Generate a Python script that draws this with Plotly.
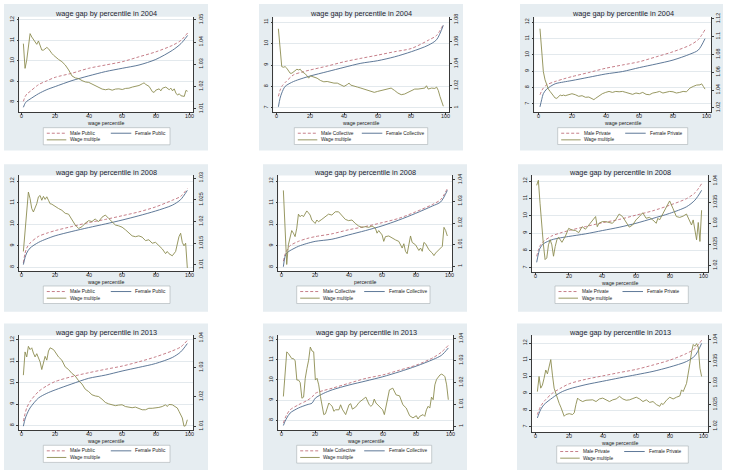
import plotly.graph_objects as go

W, H = 730, 474

# ---------------- data ----------------
CURVE_PCT = [1, 2, 3, 5, 10, 15, 20, 30, 40, 50, 60, 70, 80, 90, 95, 99]
CURVE_PCT_COLL13 = [1, 2, 3, 5, 10, 15, 18, 20, 25, 30, 40, 50, 60, 70, 80, 90, 95, 99]
X_TICKS = [0, 20, 40, 60, 80, 100]

# 2004
male_pub04 = [8.03, 8.25, 8.38, 8.51, 8.84, 9.03, 9.20, 9.40, 9.64, 9.80, 9.96, 10.20, 10.44, 10.76, 11.00, 11.36]
female_pub04 = [7.74, 7.93, 8.03, 8.14, 8.40, 8.60, 8.75, 9.04, 9.27, 9.48, 9.64, 9.80, 10.07, 10.52, 10.84, 11.24]
wm_pct_pub04 = [1, 2, 3, 4, 5, 6, 7, 8, 9, 10, 11, 12, 13, 14, 15, 16, 17, 18, 19, 20,
                22, 24, 26, 28, 30, 32, 34, 36, 38, 40, 42, 44, 46, 48, 50, 52, 54, 56, 58, 60, 62, 64, 66, 68, 70, 72,
                73, 74, 76, 78, 79, 80, 82, 83, 84, 86, 88, 89, 90, 91, 92, 93, 94, 95, 96, 97, 98, 99]
wm_pub04 = [1.0393, 1.0282, 1.0319, 1.0386, 1.0438, 1.0423, 1.0411, 1.0401, 1.0390, 1.0405, 1.0379, 1.0364, 1.0364, 1.0371, 1.0376, 1.0370, 1.0356, 1.0349, 1.0341, 1.0334,
            1.0322, 1.0312, 1.0297, 1.0275, 1.0248, 1.0239, 1.0236, 1.0227, 1.0221, 1.0219, 1.0211, 1.0204, 1.0195, 1.0189, 1.0186, 1.0189, 1.0184, 1.0189, 1.0190, 1.0187, 1.0192, 1.0193, 1.0198, 1.0201, 1.0205, 1.0213,
            1.0217, 1.0210, 1.0201, 1.0177, 1.0174, 1.0184, 1.0190, 1.0181, 1.0193, 1.0198, 1.0186, 1.0193, 1.0181, 1.0190, 1.0171, 1.0162, 1.0168, 1.0159, 1.0156, 1.0156, 1.0183, 1.0179]

male_col04 = [7.54, 7.82, 8.00, 8.18, 8.54, 8.67, 8.77, 8.95, 9.15, 9.31, 9.46, 9.62, 9.77, 10.15, 10.38, 10.89]
female_col04 = [7.05, 7.45, 7.69, 8.00, 8.23, 8.37, 8.49, 8.69, 8.89, 9.08, 9.20, 9.38, 9.62, 9.92, 10.18, 10.85]
wm_pct_col04 = [1, 2, 3, 4, 5, 6, 7, 8, 9, 10, 11, 12, 13, 14, 15, 16, 17, 18, 19, 20,
                22, 24, 26, 28, 30, 32, 34, 36, 38, 40,
                42, 43, 44, 46, 48, 50, 52, 54, 56, 58, 60, 62, 64, 66, 68, 70, 72, 74, 76, 78, 80, 82, 84, 86, 88,
                89, 90, 92, 94, 95, 96, 97, 98, 99]
wm_col04 = [1.0719, 1.0524, 1.0375, 1.0369, 1.0375, 1.0360, 1.0330, 1.0315, 1.0315, 1.0330, 1.0345, 1.0351, 1.0345, 1.0351, 1.0330, 1.0321, 1.0309, 1.0291, 1.0270, 1.0291,
            1.0279, 1.0270, 1.0249, 1.0237, 1.0240, 1.0231, 1.0225, 1.0225, 1.0210, 1.0195,
            1.0213, 1.0225, 1.0207, 1.0195, 1.0189, 1.0180, 1.0171, 1.0159, 1.0150, 1.0141, 1.0150, 1.0159, 1.0165, 1.0171, 1.0180, 1.0159, 1.0135, 1.0120, 1.0126, 1.0141, 1.0159, 1.0171, 1.0171, 1.0177, 1.0180,
            1.0201, 1.0171, 1.0180, 1.0177, 1.0189, 1.0159, 1.0105, 1.0060, 1.0015]

male_pri04 = [7.56, 7.80, 7.97, 8.17, 8.37, 8.53, 8.67, 8.92, 9.18, 9.38, 9.58, 9.88, 10.19, 10.59, 10.93, 11.54]
female_pri04 = [6.82, 7.26, 7.63, 7.91, 8.23, 8.34, 8.43, 8.63, 8.83, 8.98, 9.22, 9.44, 9.68, 10.04, 10.29, 10.99]
wm_pct_pri04 = [1, 2, 3, 4, 5, 6, 7, 8, 9, 10, 11, 12, 13, 14, 15, 16,
                18, 20, 22, 24, 26, 28, 30, 32, 33,
                34, 36, 38, 40, 42, 44, 46, 48, 50, 52, 54, 56, 58, 60, 62, 64, 66, 68, 70, 72, 74, 76, 78, 80, 82, 84, 86, 88, 90, 92, 94, 96,
                97, 98, 99]
wm_pri04 = [1.1089, 1.0811, 1.0607, 1.0515, 1.0448, 1.0411, 1.0385, 1.0359, 1.0330, 1.0311, 1.0307, 1.0322, 1.0344, 1.0337, 1.0344, 1.0337,
            1.0344, 1.0359, 1.0348, 1.0330, 1.0337, 1.0319, 1.0322, 1.0307, 1.0293,
            1.0307, 1.0337, 1.0359, 1.0374, 1.0385, 1.0374, 1.0385, 1.0381, 1.0385, 1.0374, 1.0359, 1.0352, 1.0367, 1.0359, 1.0374, 1.0352, 1.0348, 1.0367, 1.0374, 1.0385, 1.0367, 1.0374, 1.0385, 1.0381, 1.0367, 1.0374, 1.0385, 1.0381, 1.0422, 1.0441, 1.0456, 1.0459,
            1.0470, 1.0441, 1.0411]

# 2008
male_pub08 = [8.20, 8.65, 8.89, 9.12, 9.43, 9.58, 9.70, 9.89, 10.07, 10.22, 10.39, 10.57, 10.80, 11.11, 11.29, 11.65]
female_pub08 = [8.12, 8.45, 8.66, 8.89, 9.15, 9.32, 9.46, 9.66, 9.84, 10.01, 10.19, 10.39, 10.61, 10.88, 11.14, 11.57]
wm_pct_pub08 = [1, 2, 3, 4, 5, 6, 7, 8, 9, 10, 11, 12, 13, 14, 15, 16, 17, 18,
                20, 22, 24, 26, 28, 30, 32, 34, 36, 38, 40, 42, 44, 45, 46, 48, 50, 52, 54, 56, 58, 60,
                62, 64, 66, 68, 70, 72, 74, 76, 78, 80, 82, 84, 86, 87, 88, 90, 92, 93, 94, 95, 96, 97, 98, 99]
wm_pub08 = [1.0131, 1.0181, 1.0234, 1.0268, 1.0253, 1.0230, 1.0222, 1.0230, 1.0241, 1.0257, 1.0260, 1.0249, 1.0258, 1.0251, 1.0257, 1.0249, 1.0241, 1.0240,
            1.0234, 1.0230, 1.0226, 1.0219, 1.0217, 1.0203, 1.0192, 1.0184, 1.0188, 1.0196, 1.0202, 1.0200, 1.0206, 1.0202, 1.0200, 1.0210, 1.0215, 1.0207, 1.0200, 1.0192, 1.0190, 1.0187,
            1.0181, 1.0173, 1.0167, 1.0165, 1.0167, 1.0164, 1.0156, 1.0158, 1.0150, 1.0152, 1.0144, 1.0137, 1.0126, 1.0131, 1.0126, 1.0121, 1.0131, 1.0146, 1.0165, 1.0173, 1.0152, 1.0144, 1.0150, 1.0093]

male_col08 = [8.28, 8.60, 8.77, 9.00, 9.20, 9.33, 9.42, 9.55, 9.74, 9.89, 10.07, 10.27, 10.57, 10.91, 11.14, 11.65]
female_col08 = [8.02, 8.50, 8.66, 8.77, 8.97, 9.10, 9.20, 9.30, 9.50, 9.70, 9.92, 10.19, 10.50, 10.84, 11.03, 11.57]
wm_pct_col08 = [1, 2, 3, 4, 5, 6, 7, 8, 9, 10, 11, 12, 13, 14, 15, 16, 17, 18,
                20, 21, 22, 24, 26, 28, 30, 32, 34, 36, 38, 40, 42, 44, 46, 48, 50, 52, 54, 56, 57, 58, 60, 61, 62,
                64, 66, 68, 70, 72, 73, 74, 75, 76, 77, 78, 80, 82, 83, 84, 85, 86, 88, 90, 91, 92, 93, 94, 95, 96, 97, 98, 99]
wm_col08 = [1.0351, 1.0198, 1.0008, 1.0099, 1.0130, 1.0165, 1.0153, 1.0137, 1.0176, 1.0241, 1.0229, 1.0237, 1.0229, 1.0244, 1.0256, 1.0247, 1.0237, 1.0214,
            1.0198, 1.0214, 1.0206, 1.0217, 1.0229, 1.0241, 1.0237, 1.0252, 1.0252, 1.0232, 1.0217, 1.0211, 1.0214, 1.0198, 1.0186, 1.0180, 1.0183, 1.0180, 1.0186, 1.0176, 1.0153, 1.0165, 1.0145, 1.0115, 1.0137,
            1.0140, 1.0130, 1.0122, 1.0115, 1.0084, 1.0104, 1.0069, 1.0058, 1.0092, 1.0140, 1.0110, 1.0099, 1.0073, 1.0084, 1.0069, 1.0110, 1.0104, 1.0076, 1.0061, 1.0049, 1.0061, 1.0069, 1.0073, 1.0084, 1.0092, 1.0180, 1.0165, 1.0140]

male_pri08 = [7.67, 8.02, 8.27, 8.52, 8.84, 9.01, 9.15, 9.38, 9.60, 9.79, 10.04, 10.29, 10.61, 10.99, 11.32, 11.85]
female_pri08 = [7.32, 7.80, 8.14, 8.39, 8.62, 8.73, 8.81, 8.96, 9.15, 9.34, 9.57, 9.85, 10.14, 10.52, 10.90, 11.47]
wm_pct_pri08 = [1, 2, 3, 4, 5, 6, 7, 8, 9, 10, 11, 12, 13, 14,
                16, 18, 20, 22, 24, 26, 28, 30, 32, 34, 36, 37,
                38, 40, 42, 44, 46, 48, 50, 52, 54, 56, 58, 60, 62, 64, 66, 68, 70, 72, 73,
                74, 76, 78, 80, 82, 84, 86, 88, 90, 92, 93, 94, 95, 96, 97, 98, 99]
wm_pri08 = [1.0390, 1.0402, 1.0347, 1.0288, 1.0249, 1.0214, 1.0218, 1.0249, 1.0261, 1.0249, 1.0222, 1.0245, 1.0261, 1.0267,
            1.0255, 1.0269, 1.0288, 1.0284, 1.0283, 1.0278, 1.0292, 1.0286, 1.0296, 1.0304, 1.0316, 1.0292,
            1.0300, 1.0304, 1.0304, 1.0302, 1.0300, 1.0309, 1.0322, 1.0316, 1.0304, 1.0291, 1.0296, 1.0308, 1.0316, 1.0325, 1.0312, 1.0314, 1.0308, 1.0300, 1.0312,
            1.0308, 1.0323, 1.0339, 1.0353, 1.0335, 1.0316, 1.0314, 1.0317, 1.0322, 1.0304, 1.0296, 1.0308, 1.0280, 1.0261, 1.0302, 1.0257, 1.0331]

# 2013
male_pub13 = [8.20, 8.55, 8.82, 9.12, 9.58, 9.85, 10.05, 10.28, 10.46, 10.62, 10.77, 10.97, 11.20, 11.48, 11.66, 11.97]
female_pub13 = [7.97, 8.30, 8.51, 8.82, 9.28, 9.50, 9.66, 9.94, 10.20, 10.35, 10.54, 10.71, 10.89, 11.17, 11.43, 11.82]
wm_pct_pub13 = [1, 2, 3, 4, 5, 6, 7, 8, 9, 10, 11, 12, 13, 14, 15, 16, 17, 18, 19, 20,
                22, 24, 26, 28, 30, 32, 34, 36, 38, 40, 42, 44, 46, 48, 50, 52, 54, 56, 58, 60,
                62, 64, 66, 68, 70, 72, 74, 76, 78, 80, 82, 84, 86, 87, 88, 90, 92, 93, 94, 95, 96, 97, 98, 99]
wm_pub13 = [1.0274, 1.0353, 1.0336, 1.0372, 1.0361, 1.0367, 1.0349, 1.0336, 1.0347, 1.0330, 1.0319, 1.0293, 1.0313, 1.0338, 1.0325, 1.0356, 1.0367, 1.0364, 1.0361, 1.0353,
            1.0336, 1.0325, 1.0302, 1.0293, 1.0280, 1.0271, 1.0255, 1.0244, 1.0226, 1.0218, 1.0207, 1.0203, 1.0201, 1.0192, 1.0181, 1.0176, 1.0173, 1.0170, 1.0172, 1.0173,
            1.0167, 1.0165, 1.0163, 1.0165, 1.0161, 1.0156, 1.0156, 1.0161, 1.0161, 1.0162, 1.0164, 1.0167, 1.0173, 1.0167, 1.0174, 1.0173, 1.0167, 1.0162, 1.0151, 1.0139, 1.0128, 1.0100, 1.0102, 1.0122]

male_col13 = [7.87, 8.10, 8.28, 8.52, 8.77, 8.98, 9.15, 9.34, 9.48, 9.59, 9.84, 10.08, 10.25, 10.49, 10.74, 11.11, 11.39, 11.72]
female_col13 = [7.74, 7.95, 8.11, 8.36, 8.61, 8.77, 8.85, 9.10, 9.34, 9.51, 9.75, 9.95, 10.16, 10.41, 10.69, 11.02, 11.23, 11.59]
wm_pct_col13 = [1, 2, 3, 4, 5, 6, 7, 8, 9, 10, 11, 12, 13, 14, 15, 16, 17, 18, 19, 20,
                21, 22, 23, 24, 25, 26, 27, 28, 29, 30, 31, 32,
                34, 35, 36, 38, 40, 41, 42, 44, 46, 48, 50, 52, 53, 54, 55, 56, 58, 60, 61, 62, 63, 64, 66, 68, 70,
                72, 74, 76, 78, 80, 81, 82, 84, 85, 86, 87, 88, 89, 90, 91, 92, 93, 94, 95, 96, 97, 98, 99]
wm_col13 = [1.0136, 1.0242, 1.0340, 1.0332, 1.0317, 1.0309, 1.0309, 1.0299, 1.0211, 1.0211, 1.0199, 1.0128, 1.0133, 1.0219, 1.0264, 1.0302, 1.0362, 1.0344, 1.0340, 1.0211,
            1.0219, 1.0189, 1.0136, 1.0091, 1.0053, 1.0057, 1.0083, 1.0106, 1.0098, 1.0091, 1.0068, 1.0075,
            1.0075, 1.0098, 1.0078, 1.0053, 1.0098, 1.0103, 1.0078, 1.0088, 1.0109, 1.0121, 1.0133, 1.0098, 1.0091, 1.0098, 1.0124, 1.0106, 1.0091, 1.0075, 1.0053, 1.0091, 1.0133, 1.0166, 1.0174, 1.0143, 1.0139,
            1.0098, 1.0083, 1.0048, 1.0038, 1.0048, 1.0033, 1.0045, 1.0053, 1.0045, 1.0075, 1.0091, 1.0083, 1.0133, 1.0121, 1.0189, 1.0214, 1.0226, 1.0234, 1.0238, 1.0234, 1.0226, 1.0189, 1.0121]

male_pri13 = [7.73, 8.00, 8.23, 8.52, 9.01, 9.31, 9.57, 9.84, 10.04, 10.24, 10.43, 10.69, 10.98, 11.38, 11.67, 12.17]
female_pri13 = [7.53, 7.80, 8.04, 8.33, 8.73, 9.06, 9.26, 9.52, 9.72, 9.92, 10.11, 10.31, 10.57, 10.90, 11.24, 11.98]
wm_pct_pri13 = [1, 2, 3, 4, 5, 6, 7, 8, 9, 10, 11, 12, 13, 14, 15, 16, 17, 18,
                20, 22, 23, 24, 25, 26,
                28, 30, 32, 34, 36, 38, 40, 42, 44, 46, 48, 50, 52, 54, 56, 58, 60, 62, 64, 66, 68, 70, 72, 74,
                75, 76, 78, 80, 82, 84, 86, 87, 88, 90, 91, 92, 93, 94, 95, 96, 97, 98, 99]
wm_pri13 = [1.0280, 1.0315, 1.0288, 1.0295, 1.0311, 1.0330, 1.0321, 1.0337, 1.0354, 1.0318, 1.0288, 1.0276, 1.0261, 1.0253, 1.0244, 1.0234, 1.0223, 1.0227,
            1.0229, 1.0227, 1.0231, 1.0250, 1.0265, 1.0261,
            1.0257, 1.0260, 1.0260, 1.0261, 1.0257, 1.0263, 1.0265, 1.0260, 1.0257, 1.0261, 1.0263, 1.0269, 1.0263, 1.0260, 1.0261, 1.0264, 1.0267, 1.0263, 1.0257, 1.0261, 1.0255, 1.0257, 1.0250, 1.0246,
            1.0253, 1.0250, 1.0260, 1.0267, 1.0263, 1.0267, 1.0270, 1.0284, 1.0280, 1.0299, 1.0318, 1.0345, 1.0372, 1.0389, 1.0385, 1.0391, 1.0383, 1.0334, 1.0315]

# ---------------- panels ----------------
PANELS = [
    dict(title="wage gap by percentile in 2004", sector="Public", xlabel="wage percentile",
         cpct=CURVE_PCT, male=male_pub04, female=female_pub04, wpct=wm_pct_pub04, wm=wm_pub04,
         yt=[8, 9, 10, 11, 12], y2t=[1.01, 1.02, 1.03, 1.04, 1.05], y2l=["1.01", "1.02", "1.03", "1.04", "1.05"]),
    dict(title="wage gap by percentile in 2004", sector="Collective", xlabel="wage percentile",
         cpct=CURVE_PCT, male=male_col04, female=female_col04, wpct=wm_pct_col04, wm=wm_col04,
         yt=[7, 8, 9, 10, 11], y2t=[1.0, 1.02, 1.04, 1.06, 1.08], y2l=["1", "1.02", "1.04", "1.06", "1.08"]),
    dict(title="wage gap by percentile in 2004", sector="Private", xlabel="wage percentile",
         cpct=CURVE_PCT, male=male_pri04, female=female_pri04, wpct=wm_pct_pri04, wm=wm_pri04,
         yt=[7, 8, 9, 10, 11, 12], y2t=[1.02, 1.04, 1.06, 1.08, 1.1, 1.12], y2l=["1.02", "1.04", "1.06", "1.08", "1.1", "1.12"]),
    dict(title="wage gap by percentile in 2008", sector="Public", xlabel="wage percentile",
         cpct=CURVE_PCT, male=male_pub08, female=female_pub08, wpct=wm_pct_pub08, wm=wm_pub08,
         yt=[8, 9, 10, 11, 12], y2t=[1.01, 1.015, 1.02, 1.025, 1.03], y2l=["1.01", "1.015", "1.02", "1.025", "1.03"]),
    dict(title="wage gap by percentile in 2008", sector="Collective", xlabel="percentile",
         cpct=CURVE_PCT, male=male_col08, female=female_col08, wpct=wm_pct_col08, wm=wm_col08,
         yt=[8, 9, 10, 11, 12], y2t=[1.0, 1.01, 1.02, 1.03, 1.04], y2l=["1", "1.01", "1.02", "1.03", "1.04"]),
    dict(title="wage gap by percentile in 2008", sector="Private", xlabel="wage percentile",
         cpct=CURVE_PCT, male=male_pri08, female=female_pri08, wpct=wm_pct_pri08, wm=wm_pri08,
         yt=[7, 8, 9, 10, 11, 12], y2t=[1.02, 1.025, 1.03, 1.035, 1.04], y2l=["1.02", "1.025", "1.03", "1.035", "1.04"]),
    dict(title="wage gap by percentile in 2013", sector="Public", xlabel="wage percentile",
         cpct=CURVE_PCT, male=male_pub13, female=female_pub13, wpct=wm_pct_pub13, wm=wm_pub13,
         yt=[8, 9, 10, 11, 12], y2t=[1.01, 1.02, 1.03, 1.04], y2l=["1.01", "1.02", "1.03", "1.04"]),
    dict(title="wage gap by percentile in 2013", sector="Collective", xlabel="wage percentile",
         cpct=CURVE_PCT_COLL13, male=male_col13, female=female_col13, wpct=wm_pct_col13, wm=wm_col13,
         yt=[8, 9, 10, 11, 12], y2t=[1.0, 1.01, 1.02, 1.03, 1.04], y2l=["1", "1.01", "1.02", "1.03", "1.04"]),
    dict(title="wage gap by percentile in 2013", sector="Private", xlabel="wage percentile",
         cpct=CURVE_PCT, male=male_pri13, female=female_pri13, wpct=wm_pct_pri13, wm=wm_pri13,
         yt=[7, 8, 9, 10, 11, 12], y2t=[1.02, 1.025, 1.03, 1.035, 1.04], y2l=["1.02", "1.025", "1.03", "1.035", "1.04"]),
]

# layout geometry in pixels: panel box, plot region (L,T,R,B), axis calibration, legend box
ROW_TITLE_Y = [9.3, 170.7, 331.7]
GEOM = [
    dict(box=(4, 0, 208, 148), plot=(19.3, 13, 193.3, 109.3), xcal=(21.7, 189.3), ycal=(8, 99, 12, 16), y2cal=(1.01, 106, 1.05, 16), leg=(43.3, 125, 170, 142.3)),
    dict(box=(259, 0, 463, 148), plot=(273.3, 13, 449, 109.3), xcal=(276.7, 445), ycal=(7, 105, 11, 18.3), y2cal=(1.0, 105, 1.08, 16), leg=(294.3, 125, 427.7, 142)),
    dict(box=(520, 0, 723, 148), plot=(534.3, 13, 711, 109.3), xcal=(538.3, 706.7), ycal=(7, 101, 12, 18.3), y2cal=(1.02, 105, 1.12, 15), leg=(557.7, 125, 687.7, 142)),
    dict(box=(4, 162, 208, 311), plot=(19.3, 173.3, 193.3, 270), xcal=(21.7, 189), ycal=(8, 266, 12, 179), y2cal=(1.01, 263.7, 1.03, 176), leg=(43.3, 285, 170, 302.7)),
    dict(box=(263, 162, 467, 311), plot=(278.3, 173.3, 452.3, 270), xcal=(281.7, 449), ycal=(8, 266, 12, 179), y2cal=(1.0, 265, 1.04, 177.7), leg=(296.7, 285, 430, 302.7)),
    dict(box=(518, 162, 722, 311), plot=(531.7, 173.3, 707.7, 271), xcal=(535, 703.3), ycal=(7, 266.7, 12, 179), y2cal=(1.02, 264.3, 1.04, 179), leg=(555, 285, 688.3, 302.7)),
    dict(box=(4, 323, 208, 471), plot=(19, 335, 193.3, 431), xcal=(21.7, 189), ycal=(8, 426, 12, 339.3), y2cal=(1.01, 426.7, 1.04, 337.7), leg=(43.3, 446, 170, 463.3)),
    dict(box=(263, 323, 467, 471), plot=(278.3, 335, 453.3, 430.7), xcal=(281.7, 450), ycal=(8, 420.7, 12, 339.3), y2cal=(1.0, 426.7, 1.04, 338.3), leg=(296.7, 446, 431.7, 464)),
    dict(box=(517, 323, 722, 471), plot=(531.7, 335, 707.7, 432.7), xcal=(535.7, 703.3), ycal=(7, 427.3, 12, 342.7), y2cal=(1.02, 426.7, 1.04, 339.3), leg=(556.7, 446.7, 688.3, 464)),
]

BG = "#e6edf1"
GRID = "#e3e9ed"
AXC = "#3a3a3a"
MALE_C = "#c0707c"
FEMALE_C = "#4d6a8c"
WM_C = "#8c8c50"
FONT = "Liberation Sans, Arial, sans-serif"


def px(x):
    return x / W


def py(y):
    return 1 - y / H


def cal_range(c, p1, p2):
    va, pa, vb, pb = c
    s = (vb - va) / (pb - pa)
    return [va + (p1 - pa) * s, va + (p2 - pa) * s]


fig = go.Figure()
shapes = []
annotations = []
layout = {}

for i, (p, g) in enumerate(zip(PANELS, GEOM)):
    assert len(p["cpct"]) == len(p["male"]) == len(p["female"]), i
    assert len(p["wpct"]) == len(p["wm"]), i
    n = i + 1
    xid = "x" if n == 1 else f"x{n}"
    ya_n, yb_n = 2 * i + 1, 2 * i + 2
    ya_id = "y" if ya_n == 1 else f"y{ya_n}"
    yb_id = f"y{yb_n}"
    L, T, R, B = g["plot"]

    # backgrounds
    bx0, by0, bx1, by1 = g["box"]
    shapes.append(dict(type="rect", xref="paper", yref="paper", x0=px(bx0), x1=px(bx1), y0=py(by1), y1=py(by0),
                       fillcolor=BG, line=dict(width=0), layer="below"))
    shapes.append(dict(type="rect", xref="paper", yref="paper", x0=px(L), x1=px(R), y0=py(B), y1=py(T),
                       fillcolor="white", line=dict(width=0), layer="below"))

    # traces
    fig.add_trace(go.Scatter(x=p["cpct"], y=p["male"], xaxis=xid, yaxis=ya_id, mode="lines",
                             line=dict(color=MALE_C, width=0.9, dash="3px,2px", shape="spline", smoothing=0.8),
                             name=f"Male {p['sector']}", showlegend=False, hoverinfo="skip"))
    fig.add_trace(go.Scatter(x=p["cpct"], y=p["female"], xaxis=xid, yaxis=ya_id, mode="lines",
                             line=dict(color=FEMALE_C, width=0.9, shape="spline", smoothing=0.8),
                             name=f"Female {p['sector']}", showlegend=False, hoverinfo="skip"))
    fig.add_trace(go.Scatter(x=p["wpct"], y=p["wm"], xaxis=xid, yaxis=yb_id, mode="lines",
                             line=dict(color=WM_C, width=0.9),
                             name="Wage multiple", showlegend=False, hoverinfo="skip"))

    tickfont = dict(family=FONT, size=5.4, color="#222")
    xkey = "xaxis" if n == 1 else f"xaxis{n}"
    yakey = "yaxis" if ya_n == 1 else f"yaxis{ya_n}"
    ybkey = f"yaxis{yb_n}"
    layout[xkey] = dict(domain=[px(L), px(R)], range=cal_range((0, g["xcal"][0], 100, g["xcal"][1]), L, R),
                        anchor=ya_id, tickvals=X_TICKS, ticks="outside", ticklen=2, tickwidth=0.6,
                        tickcolor=AXC, showline=True, linecolor=AXC, linewidth=0.6, showgrid=False, zeroline=False,
                        showticklabels=False, fixedrange=True)
    layout[yakey] = dict(domain=[py(B), py(T)], range=cal_range(g["ycal"], B, T), anchor=xid,
                         tickvals=p["yt"], ticks="outside", ticklen=2, tickwidth=0.6, tickcolor=AXC, tickangle=-90,
                         showline=True, linecolor=AXC, linewidth=0.6, showgrid=True, gridcolor=GRID, gridwidth=0.7,
                         zeroline=False, tickfont=tickfont, fixedrange=True)
    layout[ybkey] = dict(overlaying=ya_id, side="right", anchor=xid, range=cal_range(g["y2cal"], B, T),
                         tickvals=p["y2t"], ticktext=p["y2l"], ticks="outside", ticklen=2, tickwidth=0.6,
                         tickcolor=AXC, tickangle=-90, showline=True, linecolor=AXC, linewidth=0.6, showgrid=False,
                         zeroline=False, tickfont=tickfont, fixedrange=True)

    # x tick labels placed close under the axis (as in the reference)
    for v in X_TICKS:
        annotations.append(dict(text=str(v), x=v, xref=xid, y=py(B + 4.0), yref="paper",
                                xanchor="center", yanchor="middle", showarrow=False, font=tickfont))

    cx = (L + R) / 2
    annotations.append(dict(text=p["title"], x=px(cx), y=py(ROW_TITLE_Y[i // 3]), xref="paper", yref="paper",
                            xanchor="center", yanchor="middle", showarrow=False,
                            font=dict(family=FONT, size=7.3, color="#1c2430")))
    annotations.append(dict(text=p["xlabel"], x=px(cx), y=py(B + 10.8), xref="paper", yref="paper",
                            xanchor="center", yanchor="middle", showarrow=False,
                            font=dict(family=FONT, size=5.2, color="#222")))

    # legend
    lx0, ly0, lx1, ly1 = g["leg"]
    shapes.append(dict(type="rect", xref="paper", yref="paper", x0=px(lx0), x1=px(lx1), y0=py(ly1), y1=py(ly0),
                       fillcolor="white", line=dict(color="#a8b0b4", width=0.6), layer="above"))
    r1, r2 = ly0 + 5.6, ly0 + 12.3
    shapes.append(dict(type="line", xref="paper", yref="paper", x0=px(lx0 + 3.5), x1=px(lx0 + 23), y0=py(r1), y1=py(r1),
                       line=dict(color=MALE_C, width=0.9, dash="3px,2px"), layer="above"))
    shapes.append(dict(type="line", xref="paper", yref="paper", x0=px(lx0 + 67.5), x1=px(lx0 + 88), y0=py(r1), y1=py(r1),
                       line=dict(color=FEMALE_C, width=0.9), layer="above"))
    shapes.append(dict(type="line", xref="paper", yref="paper", x0=px(lx0 + 3.5), x1=px(lx0 + 23), y0=py(r2), y1=py(r2),
                       line=dict(color=WM_C, width=0.9), layer="above"))
    lf = dict(family=FONT, size=4.8, color="#222")
    for txt, tx, ty in [(f"Male {p['sector']}", lx0 + 24.5, r1), (f"Female {p['sector']}", lx0 + 90, r1),
                        ("Wage multiple", lx0 + 24.5, r2)]:
        annotations.append(dict(text=txt, x=px(tx), y=py(ty), xref="paper", yref="paper", xanchor="left",
                                yanchor="middle", showarrow=False, font=lf))

fig.update_layout(width=W, height=H, margin=dict(l=0, r=0, t=0, b=0), paper_bgcolor="white",
                  plot_bgcolor="rgba(0,0,0,0)", showlegend=False, shapes=shapes, annotations=annotations,
                  font=dict(family=FONT), **layout)

fig.write_html("out.html", config=dict(displayModeBar=False))
